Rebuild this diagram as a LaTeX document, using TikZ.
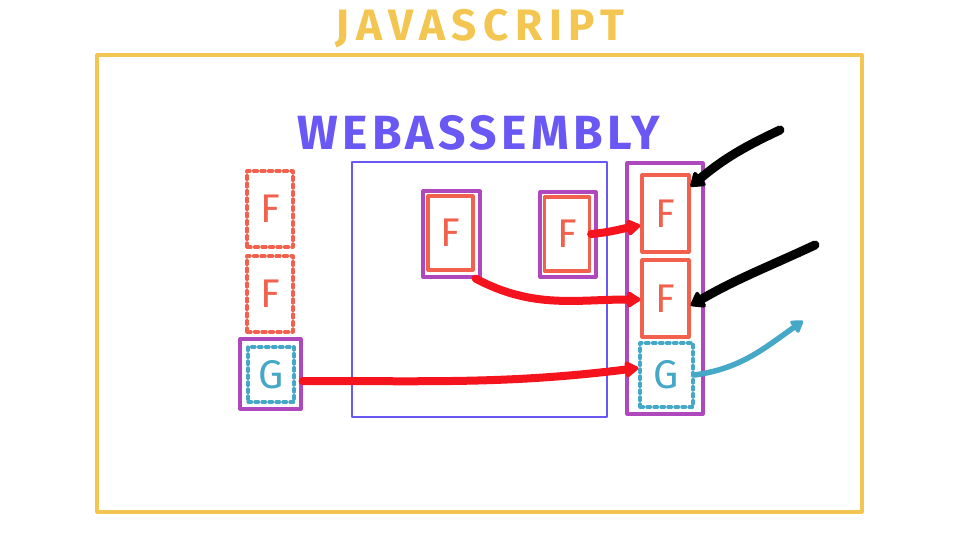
\documentclass[tikz,border=0pt]{standalone}
\usepackage{fontspec}
\setmainfont{Fira Sans}
\usetikzlibrary{arrows.meta}
\definecolor{jsyellow}{HTML}{F2C650}
\definecolor{wasmblue}{HTML}{6A58F4}
\definecolor{fred}{HTML}{F2614E}
\definecolor{gteal}{HTML}{45A8C6}
\definecolor{mpurple}{HTML}{AE48BC}
\definecolor{callred}{HTML}{F5141E}
\begin{document}
\begin{tikzpicture}[x=1pt,y=-1pt,line cap=round,line join=round,
  fbox/.style={draw=fred,line width=3.2pt,minimum width=46pt,minimum height=76pt,inner sep=0pt,text=fred,font=\fontsize{40}{40}\selectfont},
  gbox/.style={draw=gteal,line width=3.2pt,dash pattern=on 3.5pt off 3.5pt,minimum width=46pt,minimum height=55pt,inner sep=0pt,text=gteal,font=\fontsize{40}{40}\selectfont},
  mbox/.style={draw=mpurple,line width=3.2pt,inner sep=0pt},
  call/.style={draw=callred,line width=8pt,-{Triangle[length=15pt,width=18pt,round]}},
  host/.style={draw=black,line width=9pt,-{Triangle[length=15pt,width=20pt,round]}},
  ret/.style={draw=gteal,line width=5.5pt,-{Triangle[length=13pt,width=16pt,round]}}]
  \useasboundingbox (0,0) rectangle (960,540);
  % JavaScript and WebAssembly regions
  \node[draw=jsyellow,line width=3.2pt,minimum width=765pt,minimum height=457pt] (js) at (479.5,283.5){};
  \node[text=jsyellow,font=\bfseries\fontsize{44}{44}\selectfont\addfontfeature{LetterSpace=15}] (jstitle) at (480,29){JAVASCRIPT};
  \node[draw=wasmblue,line width=2.6pt,minimum width=255pt,minimum height=255pt] (wasm) at (479.5,289.5){};
  \node[text=wasmblue,font=\bfseries\fontsize{48}{48}\selectfont\addfontfeature{LetterSpace=9}] (wasmtitle) at (479,133){WEBASSEMBLY};
  % left column: imports
  \node[fbox,dash pattern=on 4pt off 3.5pt] (fl1) at (270,209){F};
  \node[fbox,dash pattern=on 4pt off 3.5pt] (fl2) at (270,294){F};
  \node[mbox,minimum width=61pt,minimum height=70pt] (gl) at (270.5,374){};
  \node[gbox] (glin) at (271,374.5){G};
  % functions inside the module
  \node[mbox,minimum width=57pt,minimum height=86pt] (pw1) at (451.5,234){};
  \node[fbox,minimum width=45pt,minimum height=74pt] (fw1) at (450.5,233){F};
  \node[mbox,minimum width=56pt,minimum height=85pt] (pw2) at (568,234.5){};
  \node[fbox,minimum width=45pt,minimum height=74pt] (fw2) at (567,234){F};
  % right column: table
  \node[mbox,minimum width=76pt,minimum height=251pt] (tbl) at (665,288.5){};
  \node[fbox,minimum width=47pt,minimum height=77pt] (fr1) at (665.5,213.5){F};
  \node[fbox,minimum width=47pt,minimum height=77pt] (fr2) at (665.5,298.5){F};
  \node[gbox,minimum width=53pt,minimum height=64pt] (gr) at (666.5,375){G};
  % free ends
  \coordinate (h1) at (780,130);
  \coordinate (h2) at (815,245);
  \coordinate (out) at (803,321);
  % connectors
  \draw[call] (fw2.east) to[out=5,in=190] ([yshift=-12pt]fr1.west);
  \draw[call] ([xshift=-6pt]pw1.south east) to[out=-28,in=180] ([yshift=-1pt]fr2.west);
  \draw[call] ([yshift=-7pt]gl.east) to[out=0,in=187] ([yshift=7pt]gr.west);
  \draw[host] (h1) to[out=205,in=40] ([yshift=27pt]fr1.east);
  \draw[host] (h2) to[out=205,in=30] ([yshift=-7pt]fr2.east);
  \draw[ret] (gr.east) to[out=8,in=215] (out);
\end{tikzpicture}
\end{document}
